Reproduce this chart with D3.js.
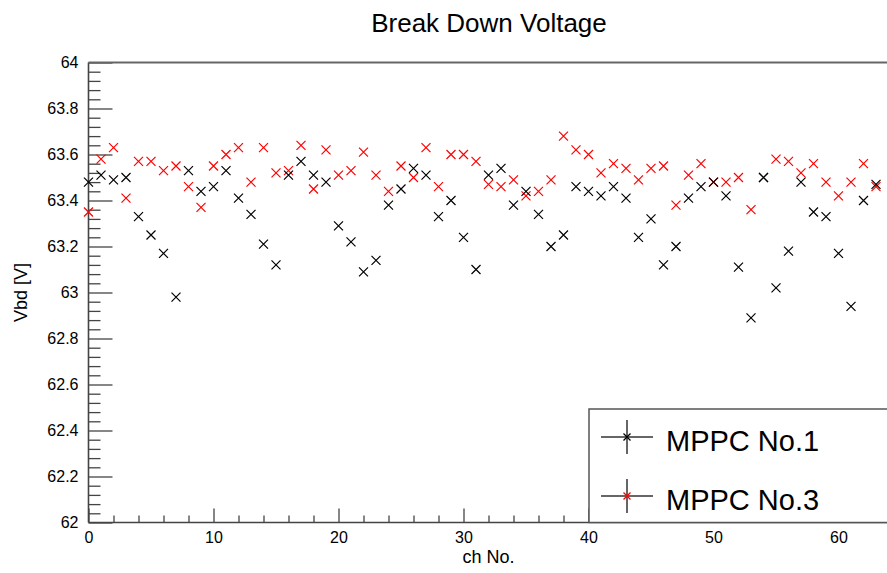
<!DOCTYPE html>
<html>
<head>
<meta charset="utf-8">
<script src="https://cdn.jsdelivr.net/npm/d3@7"></script>
<style>
  html, body { margin: 0; padding: 0; background: #fff; }
  svg { display: block; }
  text { font-family: "Liberation Sans", Arial, Helvetica, sans-serif; fill: #000; }
</style>
</head>
<body>
<svg id="chart" width="887" height="573"></svg>
<script>
const titleText = "Break Down Voltage";
const xTitle = "ch No.";
const yTitle = "Vbd [V]";
const seriesNames = ["MPPC No.1", "MPPC No.3"];
const seriesColors = ["#000000", "#ff0000"];

const channels = [0,1,2,3,4,5,6,7,8,9,10,11,12,13,14,15,16,17,18,19,20,21,22,23,24,25,26,27,28,29,30,31,
  32,33,34,35,36,37,38,39,40,41,42,43,44,45,46,47,48,49,50,51,52,53,54,55,56,57,58,59,60,61,62,63];

const mppc1 = [63.48,63.51,63.49,63.50,63.33,63.25,63.17,62.98,63.53,63.44,
  63.46,63.53,63.41,63.34,63.21,63.12,63.51,63.57,63.51,63.48,
  63.29,63.22,63.09,63.14,63.38,63.45,63.54,63.51,63.33,63.40,
  63.24,63.10,63.51,63.54,63.38,63.44,63.34,63.20,63.25,63.46,
  63.44,63.42,63.46,63.41,63.24,63.32,63.12,63.20,63.41,63.46,
  63.48,63.42,63.11,62.89,63.50,63.02,63.18,63.48,63.35,63.33,
  63.17,62.94,63.40,63.47];

const mppc3 = [63.35,63.58,63.63,63.41,63.57,63.57,63.53,63.55,63.46,63.37,
  63.55,63.60,63.63,63.48,63.63,63.52,63.53,63.64,63.45,63.62,
  63.51,63.53,63.61,63.51,63.44,63.55,63.50,63.63,63.46,63.60,
  63.60,63.57,63.47,63.46,63.49,63.42,63.44,63.49,63.68,63.62,
  63.60,63.52,63.56,63.54,63.49,63.54,63.55,63.38,63.51,63.56,
  63.48,63.48,63.50,63.36,63.50,63.58,63.57,63.52,63.56,63.48,
  63.42,63.48,63.56,63.46];

const xMajorTicks = [0,10,20,30,40,50,60];
const yMajorTicks = [62,62.2,62.4,62.6,62.8,63,63.2,63.4,63.6,63.8,64];

const svg = d3.select("#chart");
const pLeft = 88.5, pRight = 888.5, pTop = 62.5, pBottom = 522.5;
const axisColor = "#444";

const x = d3.scaleLinear().domain([0, 64]).range([pLeft, pRight]);
const y = d3.scaleLinear().domain([62, 64]).range([pBottom, pTop]);

const xMinor = x.ticks(32).filter(v => xMajorTicks.indexOf(v) < 0);
const yMinor = d3.range(0, 51).map(i => 62 + i * 0.04).filter(v => !yMajorTicks.some(m => Math.abs(m - v) < 1e-6));

// X axis
const gx = svg.append("g").attr("transform", `translate(0,${pBottom})`);
gx.append("g").call(d3.axisBottom(x).tickValues(xMinor).tickSize(-7).tickSizeOuter(0).tickFormat(""));
gx.append("g").call(d3.axisBottom(x).tickValues(xMajorTicks).tickSize(-14).tickSizeOuter(0).tickPadding(9).tickFormat(d3.format("d")));
gx.selectAll("path.domain").remove();
gx.selectAll("line").attr("stroke", axisColor).attr("stroke-width", 1.3);
gx.selectAll("text").style("font-size", "16px").attr("fill", "#000");

// Y axis
const gy = svg.append("g").attr("transform", `translate(${pLeft},0)`);
gy.append("g").call(d3.axisLeft(y).tickValues(yMinor).tickSize(-12).tickSizeOuter(0).tickFormat(""));
gy.append("g").call(d3.axisLeft(y).tickValues(yMajorTicks).tickSize(-24).tickSizeOuter(0).tickPadding(10).tickFormat(d => String(+d.toFixed(1))));
gy.selectAll("path.domain").remove();
gy.selectAll("line").attr("stroke", axisColor).attr("stroke-width", 1.3);
gy.selectAll("text").style("font-size", "16px").attr("fill", "#000");

// Frame lines
svg.append("line").attr("x1", pLeft).attr("x2", pRight).attr("y1", pBottom).attr("y2", pBottom)
  .attr("stroke", axisColor).attr("stroke-width", 1.6);
svg.append("line").attr("x1", pLeft).attr("x2", pLeft).attr("y1", pTop).attr("y2", pBottom)
  .attr("stroke", axisColor).attr("stroke-width", 1.6);
svg.append("line").attr("x1", pLeft).attr("x2", pRight).attr("y1", pTop).attr("y2", pTop)
  .attr("stroke", "#666").attr("stroke-width", 1.8);

// Titles
svg.append("text").attr("x", 489).attr("y", 32).attr("text-anchor", "middle")
  .style("font-size", "26px").text(titleText);
svg.append("text").attr("x", (pLeft + pRight) / 2).attr("y", 563).attr("text-anchor", "middle")
  .style("font-size", "18px").text(xTitle);
svg.append("text").attr("transform", `translate(27,${(pTop + pBottom) / 2}) rotate(-90)`)
  .attr("text-anchor", "middle").style("font-size", "18px").text(yTitle);

// Markers
const crossPath = (s) => `M${-s},${-s}L${s},${s}M${-s},${s}L${s},${-s}`;
const series = [mppc3, mppc1];
const cols = [seriesColors[1], seriesColors[0]];
series.forEach((vals, si) => {
  svg.append("g").selectAll("path").data(channels).join("path")
    .attr("transform", d => `translate(${x(d)},${y(vals[d])})`)
    .attr("d", crossPath(4.5))
    .attr("fill", "none")
    .attr("stroke", cols[si])
    .attr("stroke-width", 1.2);
});

// Legend
const lg = svg.append("g");
lg.append("rect").attr("x", 589).attr("y", 409).attr("width", 400).attr("height", pBottom - 409)
  .attr("fill", "#fff").attr("stroke", "#555").attr("stroke-width", 1.5);
const entryY = [437, 496];
seriesNames.forEach((name, i) => {
  const cy = entryY[i];
  lg.append("line").attr("x1", 601).attr("x2", 653).attr("y1", cy).attr("y2", cy)
    .attr("stroke", "#666").attr("stroke-width", 2);
  lg.append("line").attr("x1", 627).attr("x2", 627).attr("y1", cy - 17).attr("y2", cy + 17)
    .attr("stroke", "#666").attr("stroke-width", 2);
  lg.append("path").attr("transform", `translate(627,${cy})`).attr("d", crossPath(3.5))
    .attr("fill", "none").attr("stroke", seriesColors[i]).attr("stroke-width", 1.3);
  lg.append("text").attr("x", 666).attr("y", cy + 13.5).style("font-size", "29px").text(name);
});
</script>
</body>
</html>
